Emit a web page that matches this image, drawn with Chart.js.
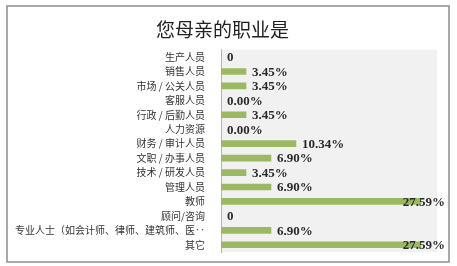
<!DOCTYPE html>
<html>
<head>
<meta charset="utf-8">
<script src="https://cdn.jsdelivr.net/npm/chart.js@4"></script>
<style>
  html, body { margin: 0; padding: 0; background: #fff; }
  #wrap { width: 457px; height: 266px; }
</style>
</head>
<body>
<div id="wrap"><canvas id="myChart" width="457" height="266"></canvas></div>
<script>
const categories = ['生产人员', '销售人员', '市场 / 公关人员', '客服人员', '行政 / 后勤人员', '人力资源',
  '财务 / 审计人员', '文职 / 办事人员', '技术 / 研发人员', '管理人员', '教师', '顾问/咨询',
  '专业人士（如会计师、律师、建筑师、医‥', '其它'];
const values = [0, 3.45, 3.45, 0, 3.45, 0, 10.34, 6.90, 3.45, 6.90, 27.59, 0, 6.90, 27.59];
const valueLabels = ['0', '3.45%', '3.45%', '0.00%', '3.45%', '0.00%', '10.34%', '6.90%', '3.45%',
  '6.90%', '27.59%', '0', '6.90%', '27.59%'];

var ctx = document.getElementById('myChart').getContext('2d');

// frame + grey plot area
const framePlugin = {
  id: 'frame',
  beforeDraw(chart) {
    const c = chart.ctx, a = chart.chartArea;
    c.save();
    c.fillStyle = '#fff';
    c.fillRect(0, 0, chart.width, chart.height);
    c.strokeStyle = '#8c8c8c';
    c.lineWidth = 1.5;
    c.strokeRect(7, 6, 442, 256);
    c.fillStyle = '#f1f1f1';
    c.fillRect(a.left, a.top, a.right - a.left, a.bottom - a.top);
    c.restore();
  }
};

// value labels at bar ends
const labelPlugin = {
  id: 'valueLabels',
  afterDatasetsDraw(chart) {
    const c = chart.ctx;
    const meta = chart.getDatasetMeta(0);
    c.save();
    c.font = 'bold 13px "Liberation Serif", "DejaVu Serif", serif';
    c.fillStyle = '#2a2a2a';
    c.textBaseline = 'middle';
    meta.data.forEach(function (bar, i) {
      const txt = valueLabels[i];
      const w = c.measureText(txt).width;
      let x = bar.x + 6;
      if (x + w > 445) x = 445 - w;
      c.fillText(txt, x, bar.y + 1);
    });
    c.restore();
  }
};

var myChart = new Chart(ctx, {
  type: 'bar',
  data: {
    labels: categories,
    datasets: [{
      data: values,
      backgroundColor: '#9cb863',
      borderWidth: 0,
      barThickness: 6
    }]
  },
  options: {
    indexAxis: 'y',
    responsive: false,
    animation: false,
    layout: { padding: { left: 8, right: 20, bottom: 14 } },
    plugins: {
      legend: { display: false },
      tooltip: { enabled: false },
      title: {
        display: true,
        text: '您母亲的职业是',
        color: '#222',
        font: { family: '"Noto Sans CJK SC", sans-serif', size: 19, weight: 'normal' },
        padding: { top: 18, bottom: 9 }
      }
    },
    scales: {
      x: { display: false, min: 0, max: 29.8 },
      y: {
        afterFit(scale) { scale.width = 213; },
        grid: { display: false },
        border: { display: true, color: '#b5b5b5', width: 1 },
        ticks: {
          color: '#333',
          padding: 8,
          autoSkip: false,
          font: { family: '"Noto Sans CJK SC", sans-serif', size: 10 }
        }
      }
    }
  },
  plugins: [framePlugin, labelPlugin]
});
</script>
</body>
</html>
